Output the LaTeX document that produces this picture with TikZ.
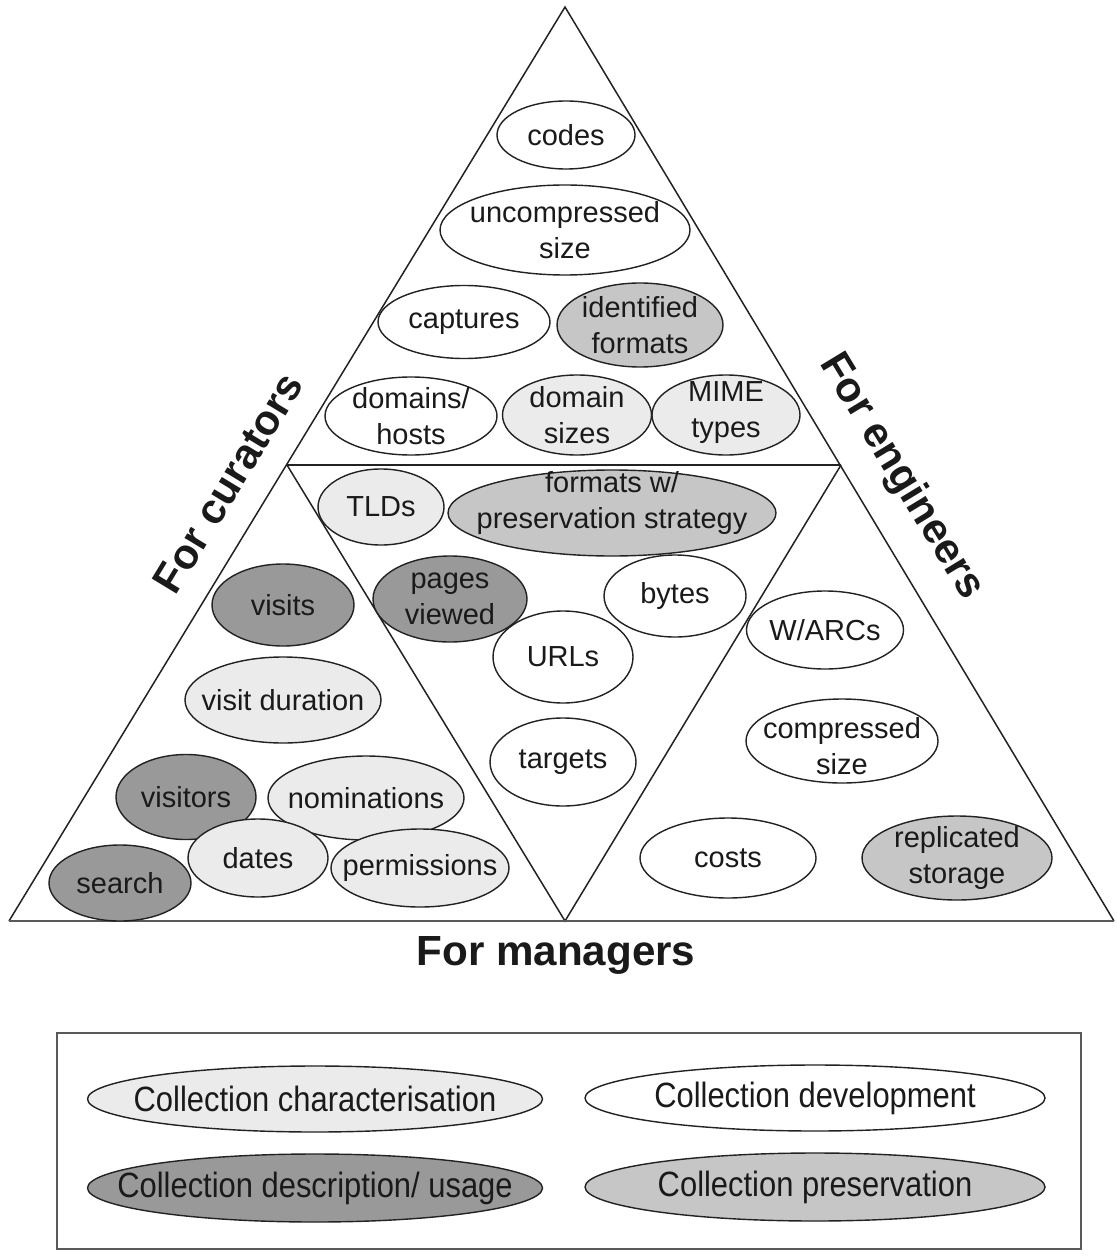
\documentclass[tikz,border=0pt]{standalone}
\usepackage{fontspec}
\setmainfont{Liberation Sans}
\newfontfamily\condfont{Liberation Sans}[FakeStretch=0.88]
\usetikzlibrary{shapes.geometric}
\definecolor{lightg}{HTML}{EBEBEB}
\definecolor{midg}{HTML}{C6C6C6}
\definecolor{darkg}{HTML}{999999}
\definecolor{linec}{HTML}{222222}
\definecolor{textc}{HTML}{1A1A1A}
\begin{document}
\begin{tikzpicture}[x=0.02cm,y=-0.02cm,
  ell/.style 2 args={ellipse, draw=linec, line width=0.8pt,
    minimum width=#1*0.02cm, minimum height=#2*0.02cm, inner sep=0pt},
  lbl/.style={text=textc, font=\fontsize{16.5}{20.5}\selectfont, align=center, inner sep=0pt},
  blbl/.style={text=textc, font=\condfont\fontsize{20}{24}\selectfont, align=center, inner sep=0pt},
  title/.style={text=textc, font=\bfseries\fontsize{24}{28}\selectfont, inner sep=0pt},
  edge/.style={draw=linec, line width=0.85pt},
]
\useasboundingbox (0,0) rectangle (1116,1256);
\fill[white] (0,0) rectangle (1116,1256);

% pyramid
\coordinate (apex) at (565,7);
\coordinate (bl) at (9,921);
\coordinate (br) at (1114,921);
\coordinate (ml) at (287,465);
\coordinate (mr) at (841,465);
\coordinate (mb) at (565,921);
\draw[edge] (bl) -- (apex) -- (br);
\draw[edge] (ml) -- (mr);
\draw[edge] (ml) -- (mb) -- (mr);
\draw[draw=black!65, line width=1.6pt] (bl) -- (br);

% titles
\node[title, rotate=58.7] (tcur) at (228,483) {For curators};
\node[title, rotate=-58.7] (teng) at (901,477) {For engineers};
\node[title] (tman) at (556,955) {For managers};

% top section
\node[ell={138}{68}, fill=white] (codes) at (566,135) {};
\node[lbl] at (codes) {codes};
\node[ell={250}{90}, fill=white] (uncomp) at (565,230) {};
\node[lbl] at (uncomp) {uncompressed\\size};
\node[ell={172}{73}, fill=white] (capt) at (464,322) {};
\node[lbl] at (capt) {captures};
\node[ell={166}{84}, fill=midg] (idfmt) at (640,325) {};
\node[lbl] at (idfmt) {identified\\formats};
\node[ell={172}{78}, fill=white] (domh) at (411,416) {};
\node[lbl] at (domh) {domains/\\hosts};
\node[ell={149}{80}, fill=lightg] (doms) at (577,415) {};
\node[lbl] at (doms) {domain\\sizes};
\node[ell={148}{80}, fill=lightg] (mime) at (726,415) {};
\node[lbl] at ([yshift=0.04cm]mime) {MIME\\types};

% middle section
\node[ell={126}{76}, fill=lightg] (tlds) at (381,507) {};
\node[lbl] at (tlds) {TLDs};
\node[ell={328}{86}, fill=midg] (fmtw) at (612,513) {};
\node[lbl] at ([yshift=0.2cm]fmtw) {formats w/\\preservation strategy};
\node[ell={154}{86}, fill=darkg] (pages) at (450,599) {};
\node[lbl] at (pages) {pages\\viewed};
\node[ell={142}{82}, fill=white] (bytes) at (675,596) {};
\node[lbl] at (bytes) {bytes};
\node[ell={140}{92}, fill=white] (urls) at (563,657) {};
\node[lbl] at (urls) {URLs};
\node[ell={146}{88}, fill=white] (targ) at (563,762) {};
\node[lbl] at (targ) {targets};

% curators
\node[ell={142}{82}, fill=darkg] (visits) at (283,605) {};
\node[lbl] at (visits) {visits};
\node[ell={196}{86}, fill=lightg] (vdur) at (283,700) {};
\node[lbl] at (vdur) {visit duration};
\node[ell={140}{85}, fill=darkg] (visitors) at (186,797) {};
\node[lbl] at (visitors) {visitors};
\node[ell={196}{84}, fill=lightg] (nomin) at (366,798) {};
\node[lbl] at (nomin) {nominations};
\node[ell={142}{76}, fill=darkg] (search) at (120,883) {};
\node[lbl] at (search) {search};
\node[ell={140}{78}, fill=lightg] (dates) at (258,858) {};
\node[lbl] at (dates) {dates};
\node[ell={178}{78}, fill=lightg] (perm) at (420,868) {};
\node[lbl] at (perm) {permissions};

% engineers
\node[ell={157}{78}, fill=white] (warcs) at (825,630) {};
\node[lbl] at (warcs) {W/ARCs};
\node[ell={192}{84}, fill=white] (comp) at (842,741) {};
\node[lbl] at ([yshift=-0.1cm]comp) {compressed\\size};
\node[ell={176}{80}, fill=white] (costs) at (728,858) {};
\node[lbl] at (costs) {costs};
\node[ell={190}{84}, fill=midg] (repl) at (957,858) {};
\node[lbl] at (repl) {replicated\\storage};

% managers box
\draw[draw=black!65, line width=1.2pt] (57,1033) rectangle (1081,1249);
\node[ell={455}{66}, fill=lightg] (cchar) at (315,1099) {};
\node[blbl] at (cchar) {Collection characterisation};
\node[ell={460}{66}, fill=white] (cdev) at (815,1098) {};
\node[blbl] at (cdev) {Collection development};
\node[ell={455}{68}, fill=darkg] (cdesc) at (315,1188) {};
\node[blbl] at (cdesc) {Collection description/ usage};
\node[ell={460}{68}, fill=midg] (cpres) at (815,1187) {};
\node[blbl] at (cpres) {Collection preservation};
\end{tikzpicture}
\end{document}
